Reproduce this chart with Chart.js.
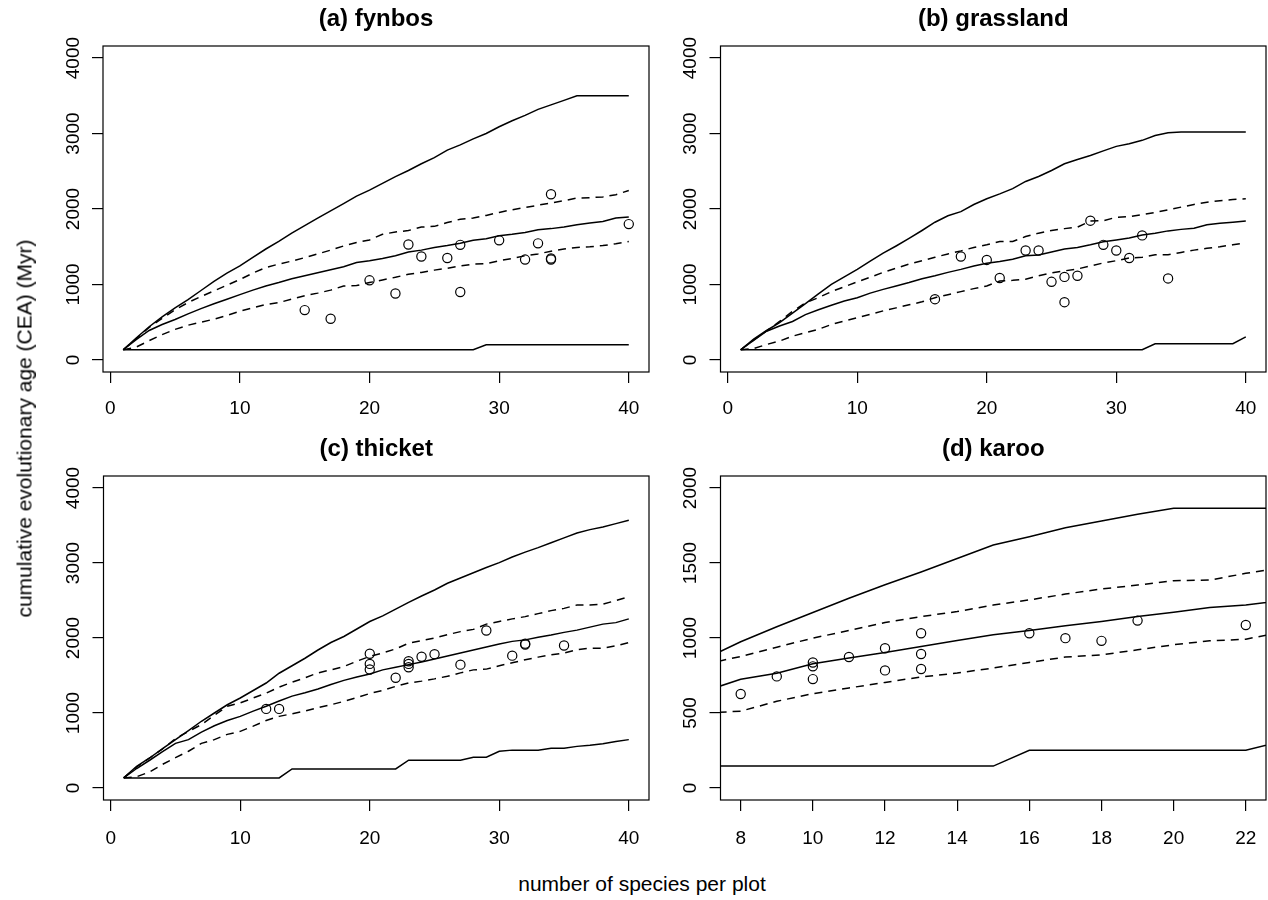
<!DOCTYPE html>
<html>
<head>
<meta charset="utf-8">
<script src="https://cdn.jsdelivr.net/npm/chart.js@4.4.1/dist/chart.umd.min.js"></script>
<style>
html,body{margin:0;padding:0;background:#fff;}
body{width:1268px;height:900px;overflow:hidden;position:relative;font-family:'Liberation Sans',Arial,Helvetica,sans-serif;color:#000;}
canvas{position:absolute;}
#ylab{position:absolute;left:-276px;top:417.5px;width:600px;height:21px;line-height:21px;font-size:21px;text-align:center;transform:rotate(-90deg);white-space:nowrap;}
#xlab{position:absolute;left:0;width:1284px;top:873px;height:21px;line-height:21px;font-size:21px;text-align:center;white-space:nowrap;}
</style>
</head>
<body>
<canvas id="pa" width="640" height="428" style="left:30px;top:0px;"></canvas>
<canvas id="pb" width="620" height="428" style="left:670px;top:0px;"></canvas>
<canvas id="pc" width="640" height="428" style="left:30px;top:428px;"></canvas>
<canvas id="pd" width="620" height="428" style="left:670px;top:428px;"></canvas>
<div id="ylab">cumulative evolutionary age (CEA) (Myr)</div>
<div id="xlab">number of species per plot</div>
<script>
// ---------------- DATA ----------------
const species40 = [1,2,3,4,5,6,7,8,9,10,11,12,13,14,15,16,17,18,19,20,21,22,23,24,25,26,27,28,29,30,31,32,33,34,35,36,37,38,39,40];
const ticks40 = [0,10,20,30,40];
const ticks4000 = [0,1000,2000,3000,4000];

// (a) fynbos
const fynbosMax   = [135,290,440,570,690,800,920,1040,1150,1245,1360,1470,1570,1680,1780,1880,1975,2070,2170,2250,2340,2430,2510,2600,2680,2780,2850,2930,3000,3090,3170,3240,3320,3380,3440,3500,3500,3500,3500,3500];
const fynbosUpper = [135,280,430,550,665,760,840,915,990,1065,1150,1225,1270,1310,1355,1405,1455,1510,1555,1590,1665,1695,1715,1760,1770,1820,1865,1880,1915,1955,1990,2020,2050,2080,2110,2145,2150,2160,2190,2245];
const fynbosMean  = [135,270,390,470,535,610,680,745,805,865,925,980,1025,1075,1115,1155,1195,1235,1290,1315,1345,1380,1430,1455,1490,1515,1545,1585,1605,1645,1665,1690,1725,1740,1760,1790,1815,1835,1880,1895];
const fynbosLower = [135,170,255,335,405,460,500,540,590,645,690,735,760,805,850,885,925,980,985,1025,1060,1095,1135,1160,1190,1215,1245,1270,1275,1315,1345,1380,1405,1440,1470,1490,1500,1515,1540,1570];
const fynbosMin   = [135,135,135,135,135,135,135,135,135,135,135,135,135,135,135,135,135,135,135,135,135,135,135,135,135,135,135,135,200,200,200,200,200,200,200,200,200,200,200,200];
const fynbosPlotsX = [15,17,20,22,23,24,26,27,27,30,32,33,34,34,34,40];
const fynbosPlotsY = [660,545,1055,880,1530,1370,1350,1525,900,1585,1330,1545,2195,1345,1330,1800];

// (b) grassland
const grassMax   = [135,275,390,495,620,745,875,1000,1100,1200,1310,1415,1510,1610,1715,1825,1910,1965,2060,2135,2200,2270,2365,2430,2510,2600,2655,2710,2770,2830,2865,2910,2975,3010,3020,3020,3020,3020,3020,3020];
const grassUpper = [135,265,385,510,645,755,825,905,970,1035,1095,1160,1215,1270,1315,1360,1405,1445,1490,1525,1570,1570,1635,1680,1715,1740,1760,1840,1845,1890,1900,1925,1955,1990,2025,2060,2090,2110,2125,2135];
const grassMean  = [135,260,380,450,510,600,665,725,780,825,885,935,980,1025,1075,1115,1160,1200,1245,1280,1305,1335,1380,1390,1430,1470,1490,1525,1565,1590,1615,1655,1680,1710,1730,1745,1790,1810,1825,1840];
const grassLower = [135,150,205,250,315,360,405,470,515,560,605,650,690,730,770,825,865,905,945,980,1045,1055,1070,1115,1155,1180,1205,1245,1285,1315,1350,1360,1395,1395,1425,1455,1480,1500,1525,1550];
const grassMin   = [135,135,135,135,135,135,135,135,135,135,135,135,135,135,135,135,135,135,135,135,135,135,135,135,135,135,135,135,135,135,135,135,215,215,215,215,215,215,215,305];
const grassPlotsX = [16,18,20,21,23,24,25,26,26,27,28,29,30,31,32,34];
const grassPlotsY = [805,1370,1325,1085,1450,1450,1035,1100,765,1115,1845,1525,1450,1350,1650,1080];

// (c) thicket
const thicketMax   = [135,290,400,525,645,765,890,1000,1110,1200,1300,1400,1530,1630,1730,1840,1940,2020,2120,2220,2295,2385,2475,2560,2640,2730,2800,2870,2940,3005,3080,3145,3205,3270,3335,3400,3445,3480,3525,3570];
const thicketUpper = [135,280,400,520,660,755,845,970,1090,1135,1200,1265,1345,1410,1470,1535,1575,1620,1690,1755,1800,1855,1930,1965,2000,2045,2085,2115,2185,2220,2255,2285,2325,2365,2395,2440,2440,2450,2500,2550];
const thicketMean  = [135,260,370,485,595,645,745,830,900,955,1025,1090,1160,1225,1270,1320,1380,1435,1480,1520,1575,1610,1645,1680,1720,1760,1800,1840,1880,1920,1955,1975,2010,2040,2075,2105,2145,2185,2205,2255];
const thicketLower = [135,150,215,315,405,490,595,645,715,755,825,900,955,990,1025,1070,1110,1155,1205,1260,1300,1355,1400,1425,1455,1490,1535,1575,1585,1630,1670,1710,1745,1775,1800,1845,1865,1865,1895,1940];
const thicketMin   = [135,135,135,135,135,135,135,135,135,135,135,135,135,255,255,255,255,255,255,255,255,255,370,370,370,370,370,410,410,490,505,505,505,530,530,555,570,590,620,645];
const thicketPlotsX = [12,13,20,20,20,22,23,23,23,24,25,27,29,31,32,32,35];
const thicketPlotsY = [1055,1055,1790,1655,1580,1470,1690,1655,1610,1750,1785,1645,2100,1765,1925,1912,1900];

// (d) karoo
const karooSpecies = [7,8,9,10,11,12,13,14,15,16,17,18,19,20,21,22,23];
const karooXTicks = [8,10,12,14,16,18,20,22];
const karooYTicks = [0,500,1000,1500,2000];
const karooMax   = [860,975,1075,1170,1265,1355,1440,1530,1620,1675,1735,1780,1825,1865,1865,1865,1865];
const karooUpper = [825,877,939,999,1050,1103,1143,1176,1220,1254,1293,1327,1353,1382,1386,1431,1470];
const karooMean  = [645,725,765,828,866,904,944,983,1021,1050,1081,1110,1143,1172,1203,1220,1250];
const karooLower = [500,512,578,629,667,704,740,766,800,837,873,888,921,955,981,992,1040];
const karooMin   = [146,146,146,146,146,146,146,146,146,252,252,252,252,252,252,252,312];
const karooPlotsX = [8,9,10,10,10,11,12,12,13,13,13,16,17,18,19,22];
const karooPlotsY = [627,744,837,811,726,873,932,784,1032,893,793,1032,999,981,1116,1087];

// ---------------- RENDER ----------------
const FONT = "'Liberation Sans', Arial, Helvetica, sans-serif";
Chart.defaults.font.family = FONT;
Chart.defaults.color = '#000';
Chart.defaults.animation = false;

const boxPlugin = {
  id: 'rbox',
  afterDraw(chart) {
    const {ctx, chartArea: a} = chart;
    ctx.save();
    ctx.strokeStyle = '#000';
    ctx.lineWidth = 1.2;
    ctx.strokeRect(a.left, a.top, a.right - a.left, a.bottom - a.top);
    ctx.restore();
  }
};

function pairs(xs, ys) { return xs.map((x, i) => ({x: x, y: ys[i]})); }
function lineSet(xs, ys, dashed) {
  return {
    data: pairs(xs, ys), showLine: true, borderColor: '#000', borderWidth: 1.5,
    borderDash: dashed ? [8, 6] : [], pointRadius: 0, pointHoverRadius: 0,
    fill: false, tension: 0, clip: 0
  };
}
function pointSet(xs, ys) {
  return {
    data: pairs(xs, ys), showLine: false, pointStyle: 'circle', pointRadius: 4.6,
    pointHoverRadius: 4.6, pointBorderWidth: 1.2, borderColor: '#000',
    pointBorderColor: '#000', backgroundColor: 'rgba(0,0,0,0)', pointBackgroundColor: 'rgba(0,0,0,0)'
  };
}

function panel(id, title, spec, xs, lines, px, py) {
  const datasets = [
    lineSet(xs, lines[0], false),
    lineSet(xs, lines[1], true),
    lineSet(xs, lines[2], false),
    lineSet(xs, lines[3], true),
    lineSet(xs, lines[4], false),
    pointSet(px, py)
  ];
  new Chart(document.getElementById(id), {
    type: 'scatter',
    data: {datasets: datasets},
    plugins: [boxPlugin],
    options: {
      responsive: false,
      animation: false,
      events: [],
      layout: {padding: {left: 0, right: spec.padRight, top: 0, bottom: 0}},
      plugins: {
        legend: {display: false},
        tooltip: {enabled: false},
        title: {
          display: true, text: title, fullSize: false, color: '#000',
          font: {size: 24, weight: 'bold', family: FONT, lineHeight: 1.15},
          padding: {top: spec.titleTop, bottom: 12.7}
        }
      },
      scales: {
        x: {
          type: 'linear', min: spec.xMin, max: spec.xMax, bounds: 'data',
          afterBuildTicks: s => { s.ticks = spec.xTicks.map(v => ({value: v})); },
          afterFit: s => { s.height = spec.xAxisH; },
          grid: {drawOnChartArea: false, drawTicks: true, tickLength: 11, color: '#000', lineWidth: 1.2},
          border: {display: false},
          ticks: {autoSkip: false, minRotation: 0, maxRotation: 0, padding: spec.xLabPad, color: '#000',
                  font: {size: 19, family: FONT}, callback: v => String(v)}
        },
        y: {
          type: 'linear', min: spec.yMin, max: spec.yMax, bounds: 'data',
          afterBuildTicks: s => { s.ticks = spec.yTicks.map(v => ({value: v})); },
          afterFit: s => { s.width = spec.yAxisW; },
          grid: {drawOnChartArea: false, drawTicks: true, tickLength: 11, color: '#000', lineWidth: 1.2},
          border: {display: false},
          ticks: {autoSkip: false, minRotation: 90, maxRotation: 90, crossAlign: 'center', padding: -2.6,
                  color: '#000', font: {size: 19, family: FONT}, callback: v => String(v)}
        }
      }
    }
  });
}

const specA = {padRight: 21, titleTop: 5.7, xAxisH: 56, yAxisW: 73, xLabPad: 14.2,
  xMin: -0.56, xMax: 41.56, yMin: -160, yMax: 4160, xTicks: ticks40, yTicks: ticks4000};
const specB = {padRight: 24, titleTop: 5.7, xAxisH: 56, yAxisW: 50.5, xLabPad: 14.2,
  xMin: -0.56, xMax: 41.56, yMin: -160, yMax: 4160, xTicks: ticks40, yTicks: ticks4000};
const specC = {padRight: 21, titleTop: 7.7, xAxisH: 56, yAxisW: 73.5, xLabPad: 15.9,
  xMin: -0.56, xMax: 41.56, yMin: -160, yMax: 4160, xTicks: ticks40, yTicks: ticks4000};
const specD = {padRight: 24, titleTop: 7.7, xAxisH: 56, yAxisW: 50.5, xLabPad: 15.9,
  xMin: 7.44, xMax: 22.56, yMin: -80, yMax: 2080, xTicks: karooXTicks, yTicks: karooYTicks};

panel('pa', '(a) fynbos', specA, species40, [fynbosMax, fynbosUpper, fynbosMean, fynbosLower, fynbosMin], fynbosPlotsX, fynbosPlotsY);
panel('pb', '(b) grassland', specB, species40, [grassMax, grassUpper, grassMean, grassLower, grassMin], grassPlotsX, grassPlotsY);
panel('pc', '(c) thicket', specC, species40, [thicketMax, thicketUpper, thicketMean, thicketLower, thicketMin], thicketPlotsX, thicketPlotsY);
panel('pd', '(d) karoo', specD, karooSpecies, [karooMax, karooUpper, karooMean, karooLower, karooMin], karooPlotsX, karooPlotsY);
</script>
</body>
</html>
